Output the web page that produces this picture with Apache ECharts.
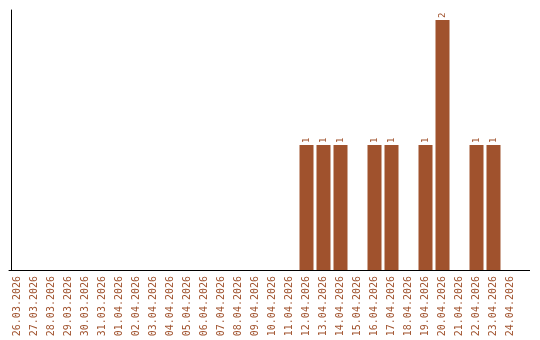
<!DOCTYPE html>
<html><head><meta charset="utf-8">
<script src="https://cdn.jsdelivr.net/npm/echarts@6/dist/echarts.min.js"></script>
<style>html,body{margin:0;padding:0;background:#fff}#c{width:540px;height:340px}</style>
</head><body><div id="c"></div>
<script>
const categories = ["26.03.2026","27.03.2026","28.03.2026","29.03.2026","30.03.2026","31.03.2026","01.04.2026","02.04.2026","03.04.2026","04.04.2026","05.04.2026","06.04.2026","07.04.2026","08.04.2026","09.04.2026","10.04.2026","11.04.2026","12.04.2026","13.04.2026","14.04.2026","15.04.2026","16.04.2026","17.04.2026","18.04.2026","19.04.2026","20.04.2026","21.04.2026","22.04.2026","23.04.2026","24.04.2026"];
const values = [0,0,0,0,0,0,0,0,0,0,0,0,0,0,0,0,0,1,1,1,0,1,1,0,1,2,0,1,1,0];
const color = '#a0522d';
const chart = echarts.init(document.getElementById('c'));
chart.setOption({
  animation:false,
  grid:{left:9, right:21, top:10, bottom:70},
  xAxis:{type:'category', data:categories,
    axisLine:{lineStyle:{color:'#000', width:1}}, axisTick:{show:false},
    axisLabel:{rotate:90, color:color, fontFamily:'DejaVu Sans Mono', fontSize:10, margin:6, interval:0}},
  yAxis:{type:'value', min:0, max:2.08, offset:-2,
    axisLine:{show:true, lineStyle:{color:'#000', width:1}}, axisTick:{show:false},
    axisLabel:{show:false}, splitLine:{show:false}},
  series:[{type:'bar', data:values.map(v=>v===0?null:v), barWidth:14,
    itemStyle:{color:color},
    label:{show:true, position:'top', rotate:90, color:color, fontFamily:'DejaVu Sans Mono', fontSize:9, distance:2, align:'left', verticalAlign:'middle'}}],
  graphic:[{type:'line', shape:{x1:519,y1:270.5,x2:530,y2:270.5}, style:{stroke:'#000', lineWidth:1}}]
});
</script></body></html>
